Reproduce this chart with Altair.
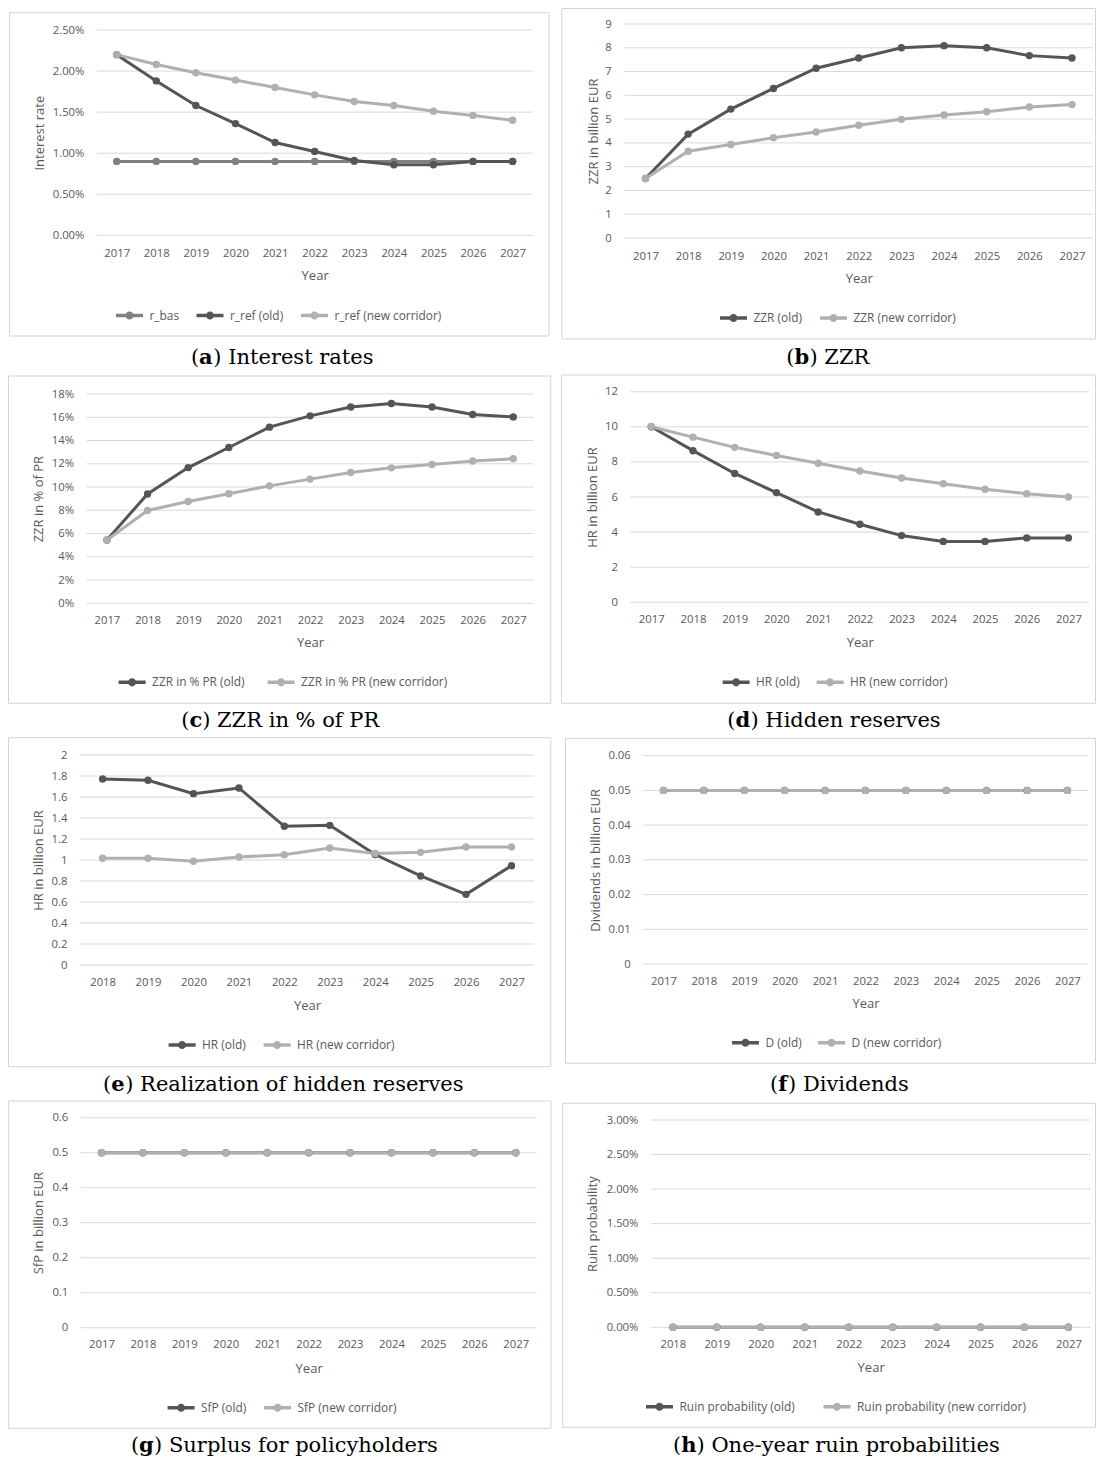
import altair as alt

# ---------------- data ----------------
YEARS_17 = [2017, 2018, 2019, 2020, 2021, 2022, 2023, 2024, 2025, 2026, 2027]
YEARS_18 = [2018, 2019, 2020, 2021, 2022, 2023, 2024, 2025, 2026, 2027]

R_BAS = [0.009, 0.009, 0.009, 0.009, 0.009, 0.009, 0.009, 0.009, 0.009, 0.009, 0.009]
R_REF_OLD = [0.0220, 0.0188, 0.0158, 0.0136, 0.0113, 0.0102, 0.0091, 0.0086, 0.0086, 0.0090, 0.0090]
R_REF_NEW = [0.0220, 0.0208, 0.0198, 0.0189, 0.0180, 0.0171, 0.0163, 0.0158, 0.0151, 0.0146, 0.0140]

ZZR_OLD = [2.50, 4.37, 5.42, 6.29, 7.14, 7.57, 8.00, 8.09, 8.00, 7.67, 7.57]
ZZR_NEW = [2.50, 3.65, 3.93, 4.22, 4.46, 4.74, 4.99, 5.17, 5.31, 5.51, 5.61]

ZZR_PCT_OLD = [0.0545, 0.0940, 0.1167, 0.1340, 0.1515, 0.1612, 0.1688, 0.1718, 0.1688, 0.1623, 0.1603]
ZZR_PCT_NEW = [0.0545, 0.0798, 0.0876, 0.0942, 0.1010, 0.1068, 0.1125, 0.1165, 0.1193, 0.1224, 0.1243]

HR_OLD = [10.0, 8.64, 7.34, 6.25, 5.15, 4.45, 3.80, 3.47, 3.47, 3.67, 3.67]
HR_NEW = [10.0, 9.41, 8.83, 8.37, 7.92, 7.48, 7.08, 6.76, 6.44, 6.19, 6.00]

HRR_OLD = [1.771, 1.759, 1.632, 1.686, 1.321, 1.330, 1.052, 0.848, 0.673, 0.946]
HRR_NEW = [1.017, 1.017, 0.988, 1.029, 1.050, 1.115, 1.062, 1.073, 1.124, 1.124]

D_OLD = [0.05, 0.05, 0.05, 0.05, 0.05, 0.05, 0.05, 0.05, 0.05, 0.05, 0.05]
D_NEW = [0.05, 0.05, 0.05, 0.05, 0.05, 0.05, 0.05, 0.05, 0.05, 0.05, 0.05]

SFP_OLD = [0.5, 0.5, 0.5, 0.5, 0.5, 0.5, 0.5, 0.5, 0.5, 0.5, 0.5]
SFP_NEW = [0.5, 0.5, 0.5, 0.5, 0.5, 0.5, 0.5, 0.5, 0.5, 0.5, 0.5]

RUIN_OLD = [0.0, 0.0, 0.0, 0.0, 0.0, 0.0, 0.0, 0.0, 0.0, 0.0]
RUIN_NEW = [0.0, 0.0, 0.0, 0.0, 0.0, 0.0, 0.0, 0.0, 0.0, 0.0]

# tick values
Y_A = [0.0, 0.005, 0.01, 0.015, 0.02, 0.025]
Y_B = [0, 1, 2, 3, 4, 5, 6, 7, 8, 9]
Y_C = [0.0, 0.02, 0.04, 0.06, 0.08, 0.10, 0.12, 0.14, 0.16, 0.18]
Y_D = [0, 2, 4, 6, 8, 10, 12]
Y_E = [0.0, 0.2, 0.4, 0.6, 0.8, 1.0, 1.2, 1.4, 1.6, 1.8, 2.0]
Y_F = [0.0, 0.01, 0.02, 0.03, 0.04, 0.05, 0.06]
Y_G = [0.0, 0.1, 0.2, 0.3, 0.4, 0.5, 0.6]
Y_H = [0.0, 0.005, 0.01, 0.015, 0.02, 0.025, 0.03]

# ---------------- style ----------------
FONT = "Open Sans"
CAP_FONT = "DejaVu Serif"
TXT = "#595959"
GRID = "#d9d9d9"
BOXC = "#d4d4d4"
C_DARK = "#555555"
C_MID = "#808080"
C_LIGHT = "#b0b0b0"
W, H = 544, 362
COL_X = [9, 558]
ROW_Y = [8, 370, 732, 1094]
LAB_SIZE = 11.3
LEG_SIZE = 11.9
TITLE_SIZE = 13
CAP_SIZE = 21
LINE_W = 3
PT_SIZE = 55

SYM_R = 7.0
SYM_PATH = ("M-1.929,-0.25H1.929V0.25H-1.929Z "
            "M0.58,0A0.58,0.58,0,1,1,-0.58,0A0.58,0.58,0,1,1,0.58,0Z")

REG = {' ': .318, '(': .390, ')': .390, '%': .950, '-': .338,
       'a': .596, 'b': .640, 'c': .560, 'd': .640, 'e': .592, 'f': .370, 'g': .640,
       'h': .644, 'i': .320, 'l': .320, 'n': .644, 'o': .602, 'p': .640, 'r': .478,
       's': .513, 't': .402, 'u': .644, 'v': .565, 'y': .565, 'z': .523,
       'I': .472, 'Z': .667, 'R': .728, 'P': .654, 'H': .874, 'D': .770, 'S': .648, 'O': .787}
BOLD = {'a': .678, 'b': .712, 'c': .600, 'd': .712, 'e': .661, 'f': .470, 'g': .712, 'h': .733}


def tw(s, table):
    return sum(table.get(ch, 0.6) for ch in s) * CAP_SIZE


# layout in page pixel coordinates (as measured on the reference)
PANELS = [
    dict(col=0, row=0, letter="a", caption="Interest rates", years=YEARS_17,
         series=[("r_bas", R_BAS, C_MID), ("r_ref (old)", R_REF_OLD, C_DARK),
                 ("r_ref (new corridor)", R_REF_NEW, C_LIGHT)],
         ytitle="Interest rate", yvals=Y_A, yfmt=".2%",
         box=(10.7, 12.7, 550, 336), xr=(97.9, 533.4), yr=(235.3, 30), xlab=253, xtitle=275,
         ytx=40, leg=(117, 315.5), legpad=16.5, cap=(284, 358)),
    dict(col=1, row=0, letter="b", caption="ZZR", years=YEARS_17,
         series=[("ZZR (old)", ZZR_OLD, C_DARK), ("ZZR (new corridor)", ZZR_NEW, C_LIGHT)],
         ytitle="ZZR in billion EUR", yvals=Y_B, yfmt="d",
         box=(567.8, 6.7, 1102, 339), xr=(630.2, 1099.3), yr=(238, 24), xlab=256, xtitle=278,
         ytx=599, leg=(726, 318), legpad=17, cap=(833, 358)),
    dict(col=0, row=1, letter="c", caption="ZZR in % of PR", years=YEARS_17,
         series=[("ZZR in % PR (old)", ZZR_PCT_OLD, C_DARK),
                 ("ZZR in % PR (new corridor)", ZZR_PCT_NEW, C_LIGHT)],
         ytitle="ZZR in % of PR", yvals=Y_C, yfmt=".0%",
         box=(9, 376, 551.8, 703.3), xr=(87.6, 534.6), yr=(603.3, 394), xlab=620, xtitle=642.7,
         ytx=39, leg=(119.6, 682.3), legpad=22, cap=(280, 721)),
    dict(col=1, row=1, letter="d", caption="Hidden reserves", years=YEARS_17,
         series=[("HR (old)", HR_OLD, C_DARK), ("HR (new corridor)", HR_NEW, C_LIGHT)],
         ytitle="HR in billion EUR", yvals=Y_D, yfmt="d",
         box=(567.6, 375, 1102, 703.3), xr=(636.4, 1095.3), yr=(602.3, 391.7), xlab=619.3,
         xtitle=642.7, ytx=598, leg=(728.6, 682.3), legpad=16, cap=(840, 721)),
    dict(col=0, row=2, letter="e", caption="Realization of hidden reserves", years=YEARS_18,
         series=[("HR (old)", HRR_OLD, C_DARK), ("HR (new corridor)", HRR_NEW, C_LIGHT)],
         ytitle="HR in billion EUR", yvals=Y_E, yfmt="~g",
         box=(9, 737.7, 551.8, 1066.7), xr=(80.9, 535.2), yr=(965, 755), xlab=982.7, xtitle=1005,
         ytx=39, leg=(169.6, 1045), legpad=17, cap=(284, 1085)),
    dict(col=1, row=2, letter="f", caption="Dividends", years=YEARS_17,
         series=[("D (old)", D_OLD, C_DARK), ("D (new corridor)", D_NEW, C_LIGHT)],
         ytitle="Dividends in billion EUR", yvals=Y_F, yfmt="~g",
         box=(571.5, 738.3, 1102, 1063.3), xr=(649.3, 1093.6), yr=(964, 755.7), xlab=981,
         xtitle=1003.3, ytx=601, leg=(738, 1042.7), legpad=15, cap=(845, 1085)),
    dict(col=0, row=3, letter="g", caption="Surplus for policyholders", years=YEARS_17,
         series=[("SfP (old)", SFP_OLD, C_DARK), ("SfP (new corridor)", SFP_NEW, C_LIGHT)],
         ytitle="SfP in billion EUR", yvals=Y_G, yfmt="~g",
         box=(9.6, 1101, 552, 1428.3), xr=(81.8, 537.5), yr=(1327.7, 1117.7), xlab=1344.3,
         xtitle=1368.3, ytx=39.3, leg=(168.6, 1407.7), legpad=16.5, cap=(285, 1445.5)),
    dict(col=1, row=3, letter="h", caption="One-year ruin probabilities", years=YEARS_18,
         series=[("Ruin probability (old)", RUIN_OLD, C_DARK),
                 ("Ruin probability (new corridor)", RUIN_NEW, C_LIGHT)],
         ytitle="Ruin probability", yvals=Y_H, yfmt=".2%",
         box=(568.7, 1103.3, 1102, 1427.3), xr=(656.9, 1096.4), yr=(1327.3, 1120), xlab=1344.3,
         xtitle=1367.3, ytx=598, leg=(652, 1406.7), legpad=27.5, cap=(842, 1445.5)),
]


def one(vals):
    return alt.Data(values=[vals])


def panel(p):
    ox, oy = COL_X[p["col"]], ROW_Y[p["row"]]

    def lx(v):
        return v - ox

    def ly(v):
        return v - oy

    x0, x1 = lx(p["xr"][0]), lx(p["xr"][1])
    yb, yt = ly(p["yr"][0]), ly(p["yr"][1])
    years = p["years"]
    rows = []
    for name, vals, _c in p["series"]:
        for yr_, v in zip(years, vals):
            rows.append({"year": yr_, "value": v, "series": name})
    data = alt.Data(values=rows)
    names = [s[0] for s in p["series"]]
    colors = [s[2] for s in p["series"]]

    xscale = alt.Scale(domain=[years[0] - 0.5, years[-1] + 0.5], range=[x0, x1], nice=False, zero=False)
    yscale = alt.Scale(domain=[p["yvals"][0], p["yvals"][-1]], range=[yb, yt], nice=False, zero=False)
    xaxis = alt.Axis(values=years, format="d", title="Year", offset=yb - H, grid=False, domain=False,
                     ticks=False, tickSize=0, labelFont=FONT, labelFontSize=LAB_SIZE, labelColor=TXT,
                     labelPadding=ly(p["xlab"]) - yb, labelBaseline="middle", labelFlush=False,
                     labelOverlap=False, labelAngle=0,
                     titleFont=FONT, titleFontSize=TITLE_SIZE, titleFontWeight="normal", titleColor=TXT,
                     titleX=(x0 + x1) / 2, titleY=ly(p["xtitle"]) - yb, titleAlign="center",
                     titleBaseline="middle", titleAngle=0)
    yaxis = alt.Axis(values=p["yvals"], format=p["yfmt"], title=p["ytitle"], offset=-x0, grid=False,
                     domain=False, ticks=False, tickSize=0, labelFont=FONT, labelFontSize=LAB_SIZE,
                     labelColor=TXT, labelPadding=13, labelFlush=False, labelOverlap=False,
                     titleFont=FONT, titleFontSize=TITLE_SIZE, titleFontWeight="normal", titleColor=TXT,
                     titleX=lx(p["ytx"]) - x0, titleY=(yb + yt) / 2, titleAngle=270, titleAlign="center",
                     titleBaseline="middle")
    X = alt.X("year:Q", scale=xscale, axis=xaxis)
    Y = alt.Y("value:Q", scale=yscale, axis=yaxis)
    cscale = alt.Scale(domain=names, range=colors)
    lgx, lgy = lx(p["leg"][0]), ly(p["leg"][1])
    legend = alt.Legend(orient="none", legendX=lgx + 13.5 - SYM_R, legendY=lgy - SYM_R,
                        direction="horizontal", title=None, symbolType=SYM_PATH,
                        symbolSize=(2 * SYM_R) ** 2, symbolStrokeWidth=0, symbolOpacity=1,
                        labelFont=FONT, labelFontSize=LEG_SIZE, labelColor=TXT, labelOffset=13,
                        columnPadding=p["legpad"], labelLimit=400, padding=0)

    bx0 = max(lx(p["box"][0]), 0.5)
    by0 = max(ly(p["box"][1]), 0.5)
    bx1 = min(lx(p["box"][2]), W - 0.5)
    by1 = min(ly(p["box"][3]), H - 0.5)
    box = alt.Chart(one({"k": 1})).mark_rect(fillOpacity=0, stroke=BOXC, strokeWidth=1).encode(
        x=alt.value(bx0), x2=alt.value(bx1), y=alt.value(by0), y2=alt.value(by1))
    grid = alt.Chart(alt.Data(values=[{"value": v} for v in p["yvals"]])).mark_rule(
        color=GRID, strokeWidth=1).encode(y=Y, x=alt.value(x0), x2=alt.value(x1))
    color = alt.Color("series:N", scale=cscale, legend=legend)
    lines = alt.Chart(data).mark_line(strokeWidth=LINE_W).encode(x=X, y=Y, color=color)
    points = alt.Chart(data).mark_point(filled=True, size=PT_SIZE, opacity=1).encode(
        x=X, y=Y, color=color)

    # caption with bold letter
    cx, cy = lx(p["cap"][0]), ly(p["cap"][1])
    t1, t2, t3 = "(", p["letter"], ") " + p["caption"]
    w1, w2, w3 = tw(t1, REG), tw(t2, BOLD), tw(t3, REG)
    start = cx - (w1 + w2 + w3) / 2
    caps = []
    for txt, xx, wt in [(t1, start, "normal"), (t2, start + w1, "bold"), (t3, start + w1 + w2, "normal")]:
        caps.append(alt.Chart(one({"k": 1})).mark_text(
            font=CAP_FONT, fontSize=CAP_SIZE, color="#000000", align="left", baseline="middle",
            fontWeight=wt).encode(x=alt.value(xx), y=alt.value(cy), text=alt.value(txt)))

    return alt.layer(box, grid, lines, points, *caps).properties(width=W, height=H)


charts = [panel(p) for p in PANELS]
chart = (
    alt.concat(*charts, columns=2, spacing=0, bounds="flush")
    .resolve_scale(x="independent", y="independent", color="independent")
    .resolve_legend(color="independent")
    .resolve_axis(x="independent", y="independent")
    .properties(padding=0, background="white")
    .configure_view(stroke="transparent", strokeWidth=0)
)

chart.save("out.html", embed_options={"renderer": "svg", "actions": False})
